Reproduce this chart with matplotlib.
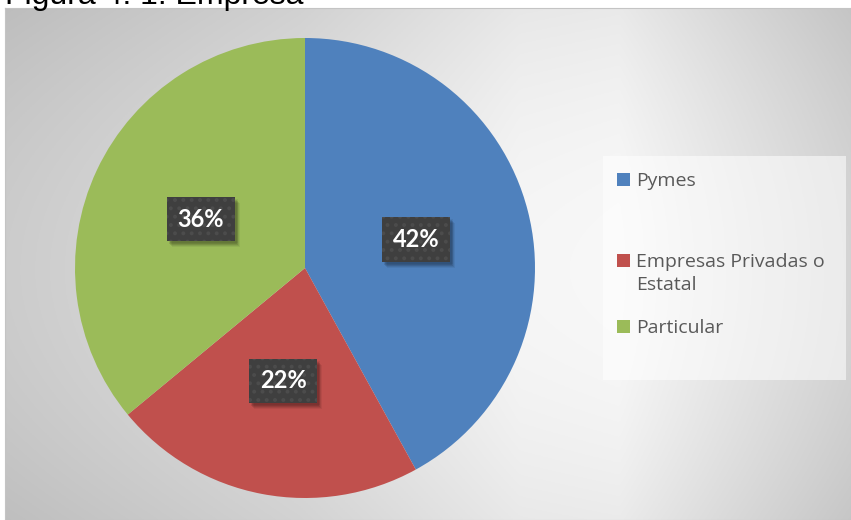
import numpy as np
import matplotlib

matplotlib.use("Agg")
import matplotlib.pyplot as plt
from matplotlib.patches import Rectangle
from matplotlib.transforms import IdentityTransform

# Company type breakdown (percent of respondents)
categories = ["Pymes", "Empresas Privadas o\nEstatal", "Particular"]
shares = [42, 22, 36]
colors = ["#4F81BD", "#C0504D", "#9BBB59"]
title = "Figura 4. 1. Empresa"

W, H = 851, 520
fig = plt.figure(figsize=(W / 100, H / 100), dpi=100)
fig.patch.set_facecolor("white")

# chart area: grey gradient, lightest a little right of centre
bg = fig.add_axes([5 / W, 0, (W - 5) / W, (H - 8) / H])
xs = np.linspace(5, W, 500)
ys = np.linspace(8, H, 300)
row = np.interp(xs, [5, 300, 520, 620, 720, W], [204, 224, 246, 248, 232, 212])
grad = row[None, :] - 14 * ((ys - 270) / 256)[:, None] ** 2
grad = np.clip(grad / 255, 0, 1)
bg.imshow(np.dstack([grad] * 3), aspect="auto", extent=[0, 1, 0, 1])
bg.set_xticks([])
bg.set_yticks([])
for s in bg.spines.values():
    s.set_color("#c4c4c4")
    s.set_linewidth(0.8)

# everything else drawn in pixel coordinates (y up)
ax = fig.add_axes([0, 0, 1, 1])
ax.patch.set_visible(False)

wedges, texts, autotexts = ax.pie(
    shares,
    colors=colors,
    startangle=90,
    counterclock=False,
    center=(305, H - 268),
    radius=230,
    autopct=lambda p: f"{p:.0f}%",
    pctdistance=0.5,
    wedgeprops=dict(linewidth=0),
)
ax.set_xlim(0, W)
ax.set_ylim(0, H)
ax.axis("off")

plt.rcParams["hatch.linewidth"] = 1.6
for t in autotexts:
    t.set(color="white", fontsize=17, fontweight="bold", family="Lato", zorder=4)
    t.set_bbox(
        dict(
            boxstyle="square,pad=0.45",
            facecolor="#3f3f3f",
            edgecolor="#4c4c4c",
            linewidth=0,
            hatch="..",
        )
    )

# soft drop shadow behind each label box, sized from the rendered box
fig.canvas.draw()
for t in autotexts:
    bb = t.get_bbox_patch().get_window_extent()
    for dx, dy, a in [(2, -3, 0.10), (3, -4, 0.10), (4, -5, 0.08), (5, -6, 0.06), (3, -2, 0.06)]:
        ax.add_patch(
            Rectangle((bb.x0 + dx, bb.y0 + dy), bb.width, bb.height,
                      transform=IdentityTransform(), facecolor="black",
                      alpha=a, linewidth=0, zorder=3)
        )

# legend panel
ax.add_patch(
    Rectangle((603, H - 380), 243, 224, facecolor="white", alpha=0.55, linewidth=0)
)
baselines = [186, 267, 333]
for label, color, base in zip(categories, colors, baselines):
    ax.add_patch(Rectangle((617, H - base), 13, 13, facecolor=color, linewidth=0))
    for i, line in enumerate(label.split("\n")):
        ax.text(
            636,
            H - base - 23 * i,
            line,
            va="baseline",
            ha="left",
            fontsize=14,
            family="Open Sans",
            color="#595959",
        )

fig.text(5 / W, 1 - 4 / H, title, va="baseline", ha="left",
         fontsize=23, family="Liberation Sans", color="black")

fig.savefig("out.png", dpi=100, facecolor="white")
